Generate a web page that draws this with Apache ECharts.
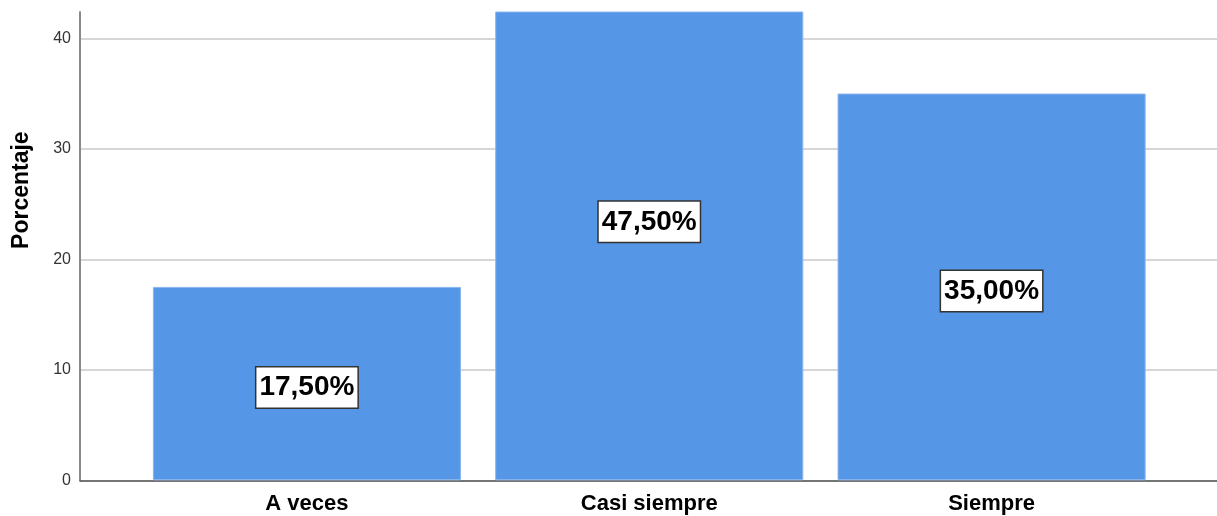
<!DOCTYPE html>
<html>
<head>
<meta charset="utf-8">
<script src="https://cdn.jsdelivr.net/npm/echarts@6/dist/echarts.min.js"></script>
<style>
html,body{margin:0;padding:0;background:#fff;}
#chart{width:1217px;height:516px;}
</style>
</head>
<body>
<div id="chart"></div>
<script>
const categories = ['A veces', 'Casi siempre', 'Siempre'];
const values = [17.5, 47.5, 35.0];
const yTicks = [0, 10, 20, 30, 40];
const yTitle = 'Porcentaje';

const Y_MAX = 42.38;
const FONT = 'Arial, "Liberation Sans", Helvetica, sans-serif';
const fmt = v => v.toFixed(2).replace('.', ',') + '%';

const chart = echarts.init(document.getElementById('chart'), null, {renderer: 'canvas'});
chart.setOption({
  animation: false,
  backgroundColor: '#ffffff',
  grid: [
    {left: 80, right: 0, top: 12, bottom: 35.7},
    {left: 135.75, right: 54.25, top: 12, bottom: 35.7}
  ],
  xAxis: [
    {
      gridIndex: 0, type: 'category', data: categories,
      axisLine: {show: true, lineStyle: {color: '#555555', width: 1.5}},
      axisTick: {show: false}, axisLabel: {show: false}, splitLine: {show: false}
    },
    {
      gridIndex: 1, type: 'category', data: categories,
      axisLine: {show: false}, axisTick: {show: false},
      axisLabel: {show: true, color: '#000000', fontFamily: FONT, fontWeight: 'bold', fontSize: 22, margin: 13},
      splitLine: {show: false}
    }
  ],
  yAxis: [
    {
      gridIndex: 0, type: 'value', min: 0, max: Y_MAX, interval: 10,
      name: yTitle, nameLocation: 'middle', nameGap: 47, nameRotate: 90,
      nameTextStyle: {color: '#000000', fontFamily: FONT, fontWeight: 'bold', fontSize: 23, padding: [0, 0, 0, 112]},
      axisLine: {show: true, lineStyle: {color: '#8a8a8a', width: 2}},
      axisTick: {show: false},
      axisLabel: {
        color: '#333333', fontFamily: FONT, fontSize: 16, margin: 9,
        formatter: v => (yTicks.indexOf(v) >= 0 ? String(v) : '')
      },
      splitLine: {show: true, showMaxLine: false, lineStyle: {color: '#d6d6d6', width: 2}}
    },
    {
      gridIndex: 1, type: 'value', min: 0, max: Y_MAX, interval: 10, show: false,
      splitLine: {show: false}
    }
  ],
  series: [
    {
      type: 'bar', xAxisIndex: 1, yAxisIndex: 1, data: values,
      barCategoryGap: '10%', clip: true,
      itemStyle: {color: '#5596E6', borderColor: '#8ab6ee', borderWidth: 1}
    },
    {
      type: 'scatter', xAxisIndex: 1, yAxisIndex: 1,
      data: values.map(v => v / 2),
      symbol: 'circle', symbolSize: 1, itemStyle: {color: 'rgba(0,0,0,0)', opacity: 1}, z: 10,
      label: {
        show: true, position: 'inside', offset: [0, 4], opacity: 1,
        formatter: p => fmt(values[p.dataIndex]),
        color: '#000000', fontFamily: FONT, fontWeight: 'bold', fontSize: 28,
        backgroundColor: '#ffffff', borderColor: '#333333', borderWidth: 1.5,
        padding: [7, 3, 5, 3]
      }
    }
  ]
});
</script>
</body>
</html>
